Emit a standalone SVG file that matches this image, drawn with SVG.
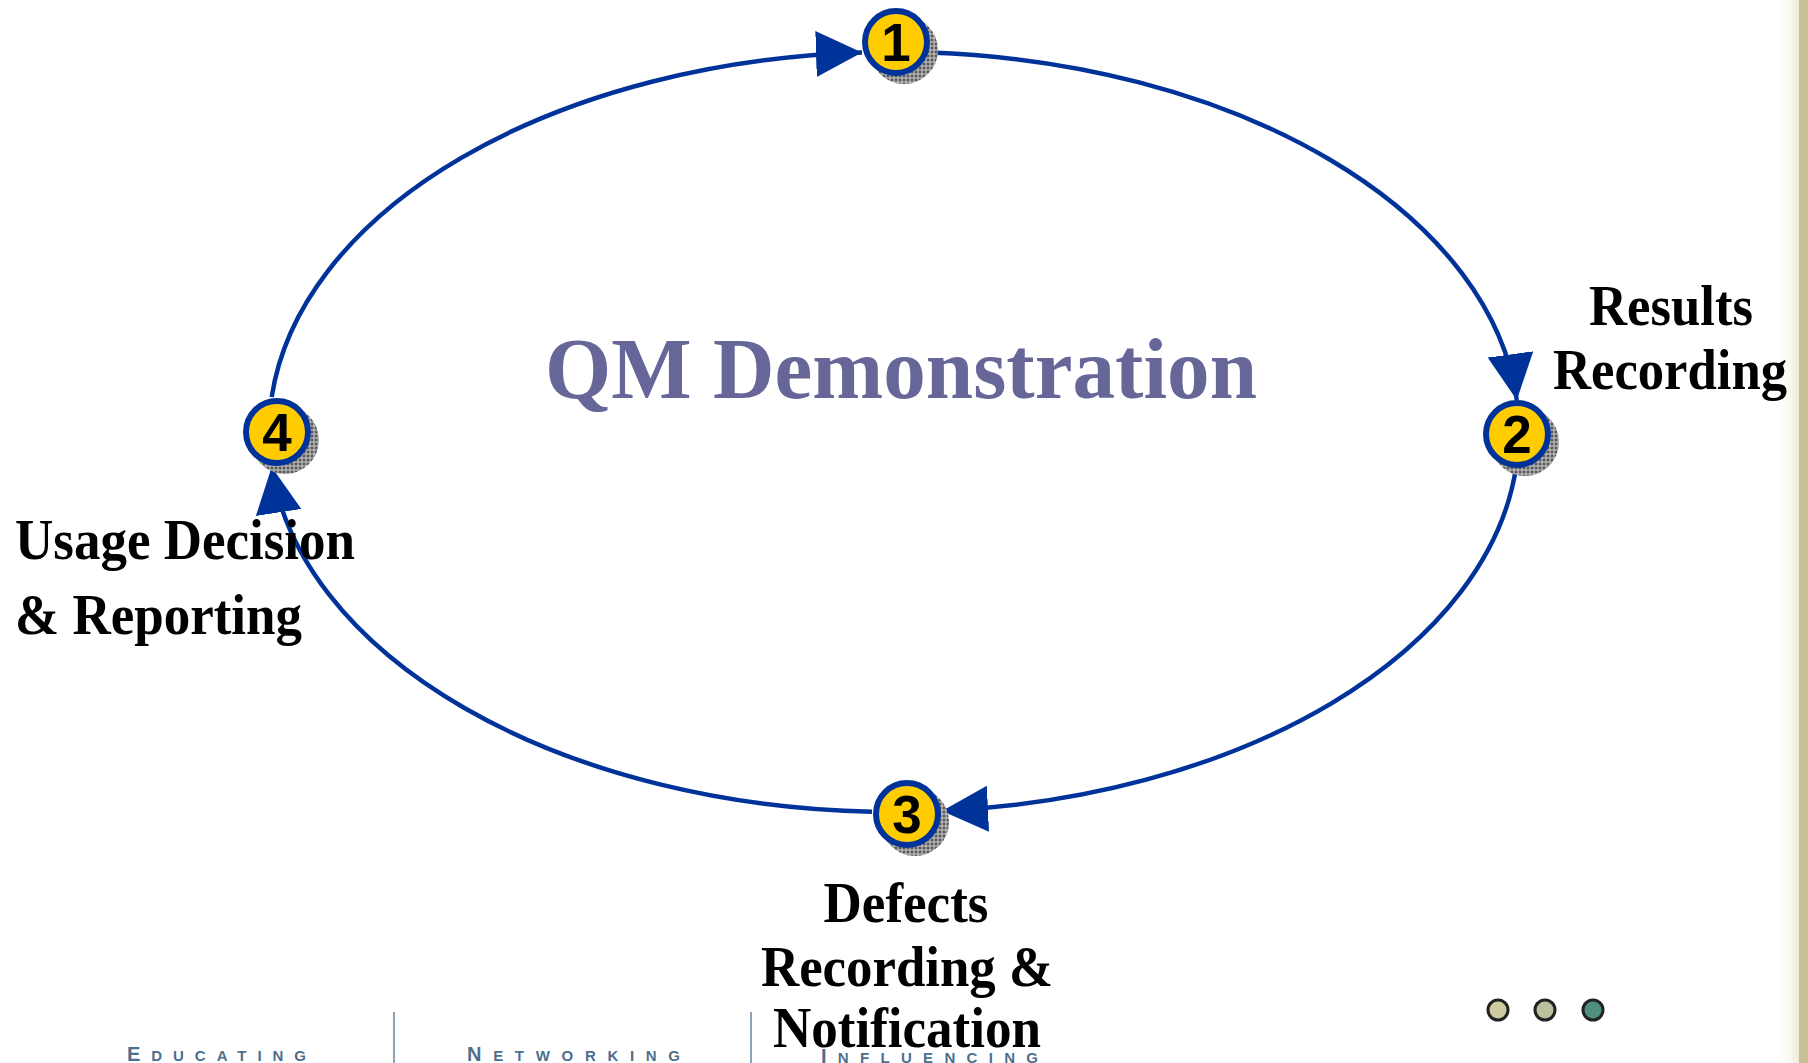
<svg xmlns="http://www.w3.org/2000/svg" width="1808" height="1063" viewBox="0 0 1808 1063">
<style>
.conn{fill:none;stroke:#003399;stroke-width:4.5;}
.node{fill:#FFCC00;stroke:#003399;stroke-width:6;}
.shadow{fill:url(#hatch);}
.num{font-family:"Liberation Sans",Arial,sans-serif;font-weight:bold;font-size:53px;fill:#000;text-anchor:middle;}
.lbl{font-family:"Liberation Serif","Times New Roman",serif;font-weight:bold;font-size:56px;fill:#000;}
.title{font-family:"Liberation Serif","Times New Roman",serif;font-weight:bold;font-size:87px;fill:#666699;text-anchor:middle;}
.foot{font-family:"Liberation Sans",Arial,sans-serif;font-weight:bold;font-size:15px;fill:#4d6f8f;}
.foot .big{font-size:20px;}
.sep{stroke:#8ea3b8;stroke-width:2;}
.dot{stroke:#222;stroke-width:3;}
</style>
<defs>
<pattern id="hatch" width="4" height="4" patternUnits="userSpaceOnUse">
<rect width="4" height="4" fill="#5a5a5a"/>
<path d="M0,2H4M2,0V4" stroke="#d0d0d0" stroke-width="1"/>
</pattern>
<marker id="arrow" markerUnits="userSpaceOnUse" markerWidth="48" markerHeight="48" refX="46" refY="23" orient="auto" viewBox="0 0 48 48">
<path d="M0,0 L46,23 L0,46 z" fill="#003399"/>
</marker>
<linearGradient id="edge" x1="0" x2="1" y1="0" y2="0">
<stop offset="0" stop-color="#ffffff" stop-opacity="0"/>
<stop offset="1" stop-color="#eeead8"/>
</linearGradient>
</defs>
<rect width="1808" height="1063" fill="#ffffff"/>
<rect x="1775" y="0" width="24" height="1063" fill="url(#edge)"/>
<rect x="1799" y="0" width="9" height="1063" fill="#c8c094"/>

<text class="title" x="901" y="398" textLength="712" lengthAdjust="spacingAndGlyphs">QM Demonstration</text>

<g id="connectors">
<path class="conn" d="M930,52.6 A625,380 0 0 1 1516.8,400" marker-end="url(#arrow)"/>
<path class="conn" d="M1516,468 A625,380 0 0 1 942,810.9" marker-end="url(#arrow)"/>
<path class="conn" d="M872,811.8 A625,380 0 0 1 271.7,467" marker-end="url(#arrow)"/>
<path class="conn" d="M271.7,397 A625,380 0 0 1 862,52.5" marker-end="url(#arrow)"/>
</g>

<g id="node1">
<circle class="shadow" cx="904" cy="50" r="34"/>
<circle class="node" cx="896" cy="42" r="31"/>
<text class="num" x="896" y="61">1</text>
</g>
<g id="node2">
<circle class="shadow" cx="1525" cy="442" r="34"/>
<circle class="node" cx="1517" cy="434" r="31"/>
<text class="num" x="1517" y="453">2</text>
<text class="lbl" text-anchor="middle"><tspan x="1671" y="325" textLength="164" lengthAdjust="spacingAndGlyphs">Results</tspan><tspan x="1670" y="389" textLength="234" lengthAdjust="spacingAndGlyphs">Recording</tspan></text>
</g>
<g id="node3">
<circle class="shadow" cx="915" cy="822" r="34"/>
<circle class="node" cx="907" cy="814" r="31"/>
<text class="num" x="907" y="833">3</text>
<text class="lbl" text-anchor="middle"><tspan x="906" y="922" textLength="165" lengthAdjust="spacingAndGlyphs">Defects</tspan><tspan x="907" y="986" textLength="292" lengthAdjust="spacingAndGlyphs">Recording &amp;</tspan><tspan x="907" y="1047" textLength="268" lengthAdjust="spacingAndGlyphs">Notification</tspan></text>
</g>
<g id="node4">
<circle class="shadow" cx="285" cy="440" r="34"/>
<circle class="node" cx="277" cy="432" r="31"/>
<text class="num" x="277" y="451">4</text>
<text class="lbl"><tspan x="15" y="559" textLength="340" lengthAdjust="spacingAndGlyphs">Usage Decision</tspan><tspan x="15" y="634" textLength="287" lengthAdjust="spacingAndGlyphs">&amp; Reporting</tspan></text>
</g>

<g id="footer">
<line class="sep" x1="394" y1="1012" x2="394" y2="1063"/>
<line class="sep" x1="751" y1="1012" x2="751" y2="1063"/>
<text class="foot" x="127" y="1061" textLength="179" lengthAdjust="spacing"><tspan class="big">E</tspan>DUCATING</text>
<text class="foot" x="467" y="1061" textLength="213" lengthAdjust="spacing"><tspan class="big">N</tspan>ETWORKING</text>
<text class="foot" x="821" y="1063" textLength="217" lengthAdjust="spacing"><tspan class="big">I</tspan>NFLUENCING</text>
</g>
<g id="dots">
<circle class="dot" cx="1498" cy="1010" r="10" fill="#cfcba0"/>
<circle class="dot" cx="1545" cy="1010" r="10" fill="#bcc09c"/>
<circle class="dot" cx="1593" cy="1010" r="10" fill="#4f8f80"/>
</g>
</svg>
